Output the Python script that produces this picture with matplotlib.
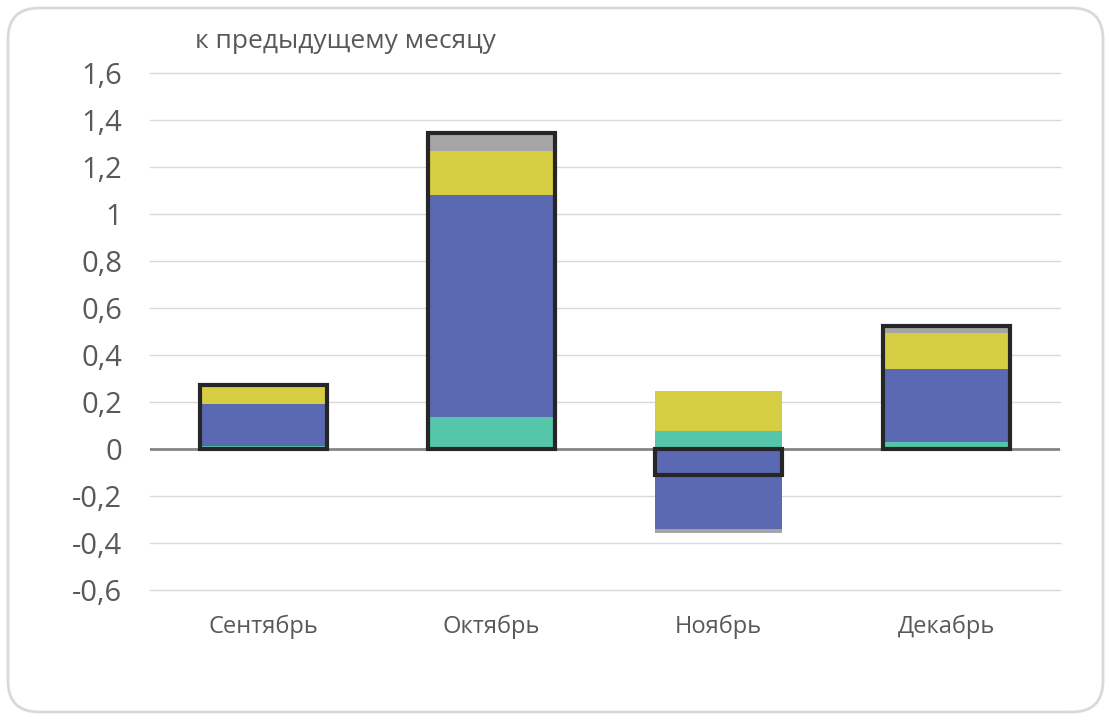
import matplotlib
matplotlib.use("Agg")
import matplotlib.pyplot as plt
from matplotlib.patches import FancyBboxPatch
import numpy as np

plt.rcParams['font.family'] = ['Open Sans', 'DejaVu Sans']

categories = ["Сентябрь", "Октябрь", "Ноябрь", "Декабрь"]
teal = [0.012, 0.137, 0.078, 0.028]
blue = [0.178, 0.945, -0.340, 0.312]
yellow = [0.072, 0.188, 0.168, 0.155]
grey = [0.011, 0.074, -0.017, 0.028]
total = [0.273, 1.344, -0.111, 0.523]
yticks = [-0.6, -0.4, -0.2, 0, 0.2, 0.4, 0.6, 0.8, 1, 1.2, 1.4, 1.6]
ytick_labels = ["-0,6", "-0,4", "-0,2", "0", "0,2", "0,4", "0,6", "0,8", "1", "1,2", "1,4", "1,6"]
title = "к предыдущему месяцу"

series = [teal, blue, yellow, grey]
colors = ["#55C6A9", "#5A69B1", "#D5CD42", "#A5A5A5"]

W, H = 1110, 721
fig = plt.figure(figsize=(W / 100, H / 100), dpi=100)
fig.patch.set_facecolor("white")

border = FancyBboxPatch((8 / W, 9 / H), (1103 - 8) / W, (713 - 9) / H,
                        boxstyle="round,pad=0,rounding_size=0.028",
                        transform=fig.transFigure, facecolor="none",
                        edgecolor="#D9D9D9", linewidth=2, mutation_aspect=W / H,
                        zorder=-1)
fig.patches.append(border)

ax = fig.add_axes([150 / W, (H - 590) / H, (1060 - 150) / W, (590 - 73) / H])
ax.set_facecolor("none")
x = np.arange(len(categories))
bw = 0.56

pos_bottom = np.zeros(len(categories))
neg_bottom = np.zeros(len(categories))
for vals, c in zip(series, colors):
    v = np.array(vals)
    bottoms = np.where(v >= 0, pos_bottom, neg_bottom)
    ax.bar(x, v, bw, bottom=bottoms, color=c, edgecolor="none", zorder=2)
    pos_bottom = pos_bottom + np.where(v >= 0, v, 0)
    neg_bottom = neg_bottom + np.where(v < 0, v, 0)

ax.axhline(0, color="#868686", linewidth=2, zorder=3)
ax.bar(x, total, bw, facecolor="none", edgecolor="#262626", linewidth=3, zorder=4)

ax.set_xlim(-0.5, len(categories) - 0.5)
ax.set_ylim(-0.6, 1.6)
ax.set_yticks(yticks)
ax.set_yticklabels(ytick_labels)
ax.set_xticks(x)
ax.set_xticklabels(categories)
ax.yaxis.grid(True, color="#D9D9D9", linewidth=1, zorder=0)
ax.set_axisbelow(True)
for gl in ax.get_ygridlines():
    gl.set_clip_on(False)
for s in ax.spines.values():
    s.set_visible(False)
ax.tick_params(axis="y", length=0, pad=20, labelsize=21, labelcolor="#595959")
ax.tick_params(axis="x", length=0, pad=18, labelsize=17, labelcolor="#595959")

fig.text(195 / W, 1 - 42 / H, title, fontsize=19, color="#595959", ha="left", va="center")

fig.savefig("out.png", dpi=100)
